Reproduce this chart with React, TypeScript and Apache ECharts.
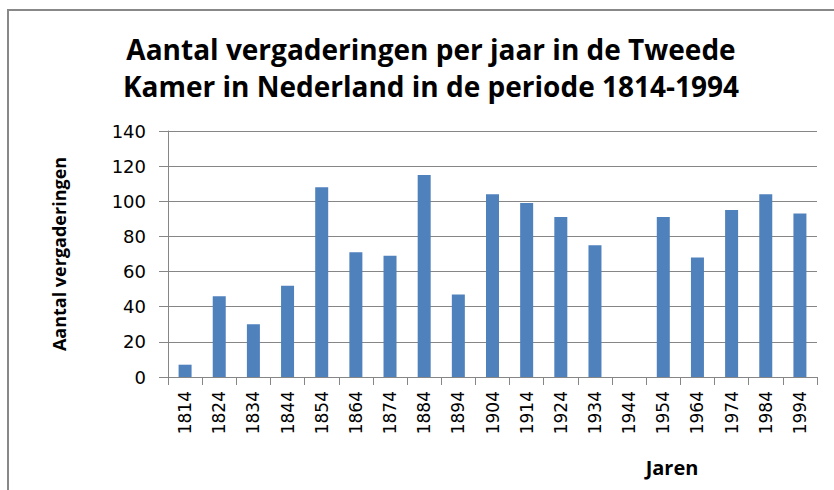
import React, { useEffect, useRef } from "react";
import * as echarts from "echarts";

const years = ["1814", "1824", "1834", "1844", "1854", "1864", "1874", "1884", "1894", "1904", "1914", "1924", "1934", "1944", "1954", "1964", "1974", "1984", "1994"];
const meetings = [7, 46, 30, 52, 108, 71, 69, 115, 47, 104, 99, 91, 75, 0, 91, 68, 95, 104, 93];
const titleLines = ["Aantal vergaderingen per jaar in de Tweede", "Kamer in Nederland in de periode 1814-1994"];
const yAxisName = "Aantal vergaderingen";
const xAxisName = "Jaren";

export default function App() {
  const ref = useRef<HTMLDivElement>(null);
  useEffect(() => {
    if (!ref.current) return;
    const chart = echarts.init(ref.current, null, { renderer: "svg" });
    chart.setOption({
      animation: false,
      backgroundColor: "#ffffff",
      title: {
        text: titleLines.join("\n"),
        left: 426,
        top: 25,
        textAlign: "center",
        textStyle: { fontFamily: "Open Sans", fontWeight: "bold", fontSize: 28, lineHeight: 37, color: "#000" },
      },
      grid: { left: 168, right: 17, top: 131, bottom: 113 },
      xAxis: {
        type: "category",
        data: years,
        boundaryGap: true,
        axisLine: { show: true, lineStyle: { color: "#868686", width: 1 } },
        axisTick: { show: true, length: 8, alignWithLabel: false, lineStyle: { color: "#868686" } },
        axisLabel: { rotate: 90, margin: 14, interval: 0, fontFamily: "DejaVu Sans", fontSize: 17, color: "#000" },
      },
      yAxis: {
        type: "value",
        min: 0,
        max: 140,
        interval: 20,
        name: yAxisName,
        nameLocation: "middle",
        nameRotate: 90,
        nameGap: 100,
        nameTextStyle: { fontFamily: "Open Sans", fontWeight: "bold", fontSize: 18, color: "#000" },
        axisLine: { show: true, lineStyle: { color: "#868686", width: 1 } },
        axisTick: { show: true, length: 9, lineStyle: { color: "#868686" } },
        axisLabel: { margin: 22, fontFamily: "DejaVu Sans", fontSize: 18, color: "#000" },
        splitLine: { show: true, lineStyle: { color: "#868686", width: 1 } },
      },
      series: [
        {
          type: "bar",
          data: meetings,
          barWidth: 13,
          itemStyle: { color: "#4F81BD" },
        },
      ],
      graphic: [
        {
          type: "rect",
          shape: { x: 8, y: 10, width: 1000, height: 1000 },
          style: { fill: "none", stroke: "#888888", lineWidth: 2 },
          silent: true,
        },
        {
          type: "text",
          x: 672,
          y: 467,
          style: { text: xAxisName, fontFamily: "Open Sans", fontWeight: "bold", fontSize: 20, fill: "#000", align: "center", verticalAlign: "middle" },
        },
      ],
    });
    return () => chart.dispose();
  }, []);
  return <div ref={ref} style={{ position: "fixed", left: 0, top: 0, width: 834, height: 490 }} />;
}
